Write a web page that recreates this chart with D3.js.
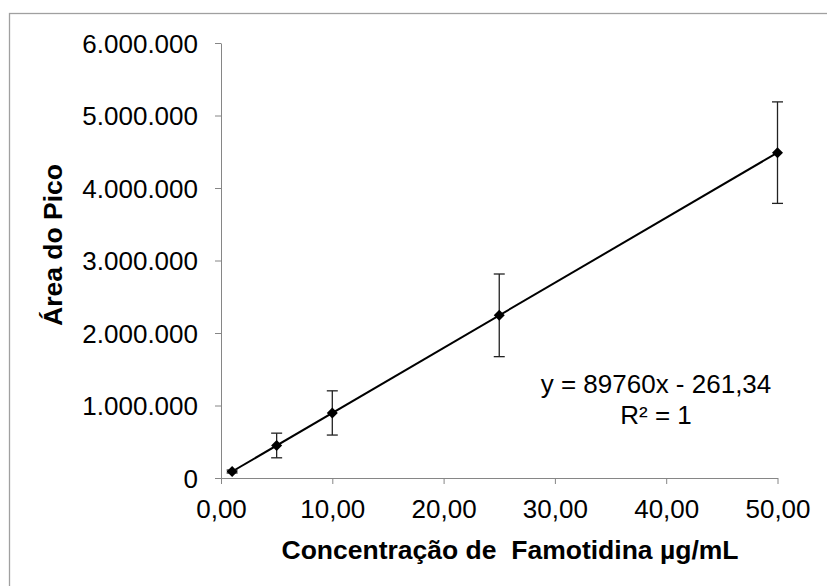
<!DOCTYPE html>
<html>
<head>
  <meta charset="utf-8">
  <title>Curva de calibração - Famotidina</title>
  <script src="https://d3js.org/d3.v7.min.js"></script>
  <style>
    body, html {
      margin: 0;
      padding: 0;
      background: #fff;
    }
    svg {
      display: block;
      font-family: "Liberation Sans", Arial, sans-serif;
    }
    .axis path, .axis line {
      stroke: #868686;
      stroke-width: 1px;
    }
    .axis text {
      font-size: 26px;
      fill: #000;
    }
    .title {
      font-size: 26.5px;
      font-weight: bold;
      fill: #000;
    }
    .eq {
      font-size: 26px;
      fill: #000;
    }
  </style>
</head>
<body>
<svg width="827" height="586"></svg>
<script>
  // Concentração (µg/mL) e área do pico média, com desvio (barras de erro)
  const conc = [1, 5, 10, 25, 50];
  const area = [89500, 448540, 897340, 2243740, 4487740];
  const errs = [20000, 170000, 305000, 570000, 700000];

  // ticks
  const xTicks = [0, 10, 20, 30, 40, 50];
  const yTicks = [0, 1000000, 2000000, 3000000, 4000000, 5000000, 6000000];

  // trend line parameters (from Excel)
  const slope = 89760, intercept = -261.34;
  const eqLines = ["y = 89760x - 261,34", "R² = 1"];

  const svg = d3.select("svg");
  const margin = { left: 221, top: 43, right: 50, bottom: 108 };

  // outer chart frame (extends off the image on right/bottom)
  svg.append("rect")
    .attr("x", 9.5).attr("y", 13.5)
    .attr("width", 840).attr("height", 600)
    .attr("fill", "none")
    .attr("stroke", "#a0a0a0")
    .attr("stroke-width", 1.3);

  const x = d3.scaleLinear().domain([0, 50]).range([margin.left, 777.5]);
  const y = d3.scaleLinear().domain([0, 6000000]).range([478, margin.top]);

  const fmtX = d => d3.format(".2f")(d).replace(".", ",");
  const fmtY = d => d3.format(",")(d).replace(/,/g, ".");

  // axes
  const xAxis = svg.append("g")
    .attr("class", "axis")
    .attr("transform", `translate(0,${y(0)})`)
    .call(d3.axisBottom(x).tickValues(xTicks).tickFormat(fmtX).tickSize(6).tickSizeOuter(0));
  xAxis.selectAll("text").attr("y", 0).attr("dy", 0)
    .attr("transform", "translate(0,40)");

  const yAxis = svg.append("g")
    .attr("class", "axis")
    .attr("transform", `translate(${x(0)},0)`)
    .call(d3.axisLeft(y).tickValues(yTicks).tickFormat(fmtY).tickSize(6).tickSizeOuter(0));
  yAxis.selectAll("text").attr("x", -23).attr("dy", "0.35em");

  // trend line
  const line = d3.line().x(d => x(d)).y(d => y(slope * d + intercept));
  svg.append("path")
    .datum([d3.min(conc), d3.max(conc)])
    .attr("d", line)
    .attr("fill", "none")
    .attr("stroke", "#000")
    .attr("stroke-width", 2);

  // error bars
  const eb = svg.append("g").attr("stroke", "#222").attr("stroke-width", 1.3);
  conc.forEach((c, i) => {
    const cx = x(c), top = y(area[i] + errs[i]), bot = y(area[i] - errs[i]);
    eb.append("line").attr("x1", cx).attr("x2", cx).attr("y1", top).attr("y2", bot);
    eb.append("line").attr("x1", cx - 5.5).attr("x2", cx + 5.5).attr("y1", top).attr("y2", top);
    eb.append("line").attr("x1", cx - 5.5).attr("x2", cx + 5.5).attr("y1", bot).attr("y2", bot);
  });

  // markers: square diamonds like Excel's
  const r = 5.5;
  svg.append("g").selectAll("path")
    .data(conc)
    .join("path")
    .attr("transform", (d, i) => `translate(${x(d)},${y(area[i])})`)
    .attr("d", `M0,${-r}L${r},0L0,${r}L${-r},0Z`)
    .attr("fill", "#000");

  // equation
  svg.append("text").attr("class", "eq")
    .attr("x", 656).attr("y", 393).attr("text-anchor", "middle")
    .text(eqLines[0]);
  svg.append("text").attr("class", "eq")
    .attr("x", 656).attr("y", 424).attr("text-anchor", "middle")
    .text(eqLines[1]);

  // axis titles
  svg.append("text").attr("class", "title")
    .attr("x", 510).attr("y", 559).attr("text-anchor", "middle")
    .style("white-space", "pre")
    .text("Concentração de  Famotidina µg/mL");

  svg.append("text").attr("class", "title")
    .attr("transform", "translate(62,245) rotate(-90)")
    .attr("text-anchor", "middle")
    .text("Área do Pico");
</script>
</body>
</html>
